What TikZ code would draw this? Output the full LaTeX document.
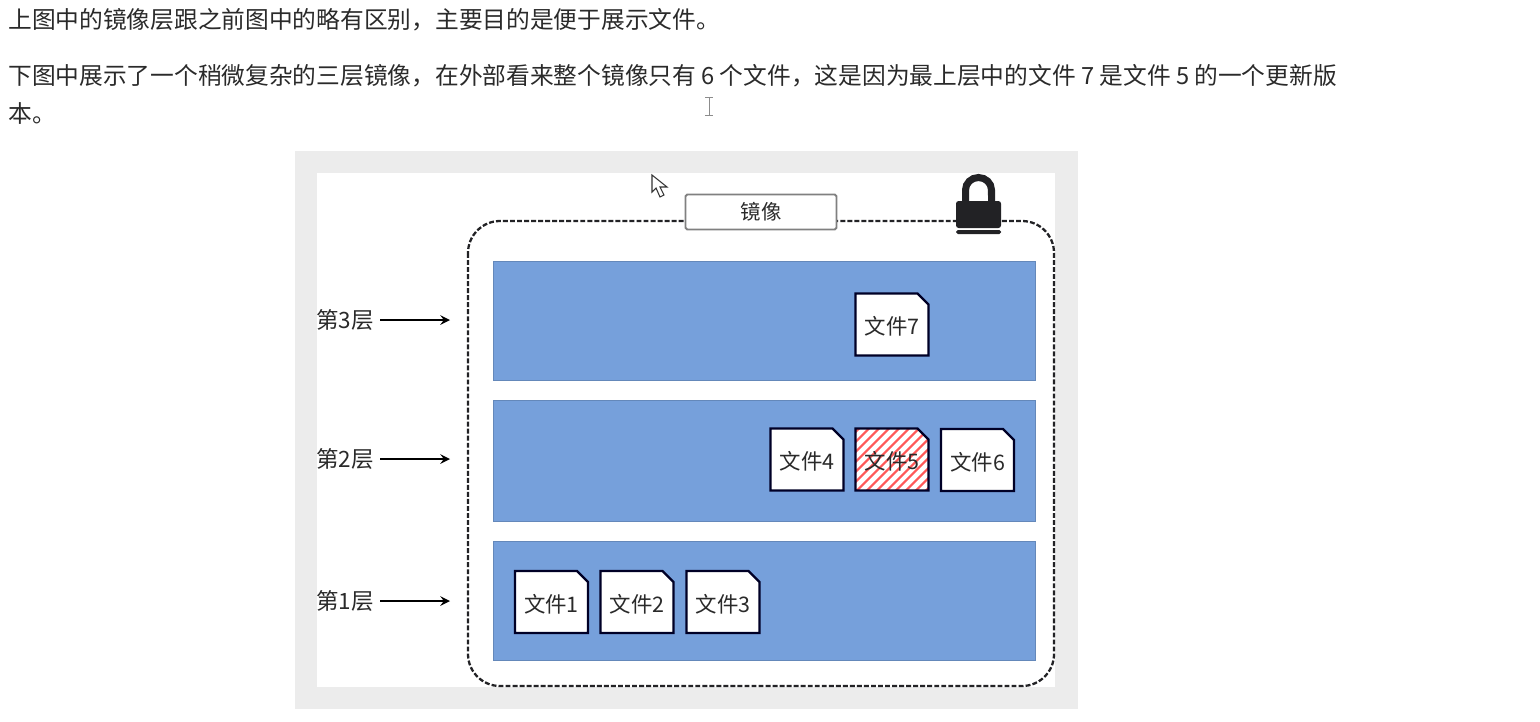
\documentclass[tikz,border=0pt]{standalone}
\usepackage{fontspec}
\setmainfont{Noto Sans CJK SC}
\usetikzlibrary{arrows, positioning, shapes.misc, patterns.meta}
\definecolor{framegray}{HTML}{ECECEC}
\definecolor{layerblue}{HTML}{76A0DB}
\definecolor{inkdark}{HTML}{222225}
\definecolor{textdark}{HTML}{2A2A2A}
\tikzstyle{para} = [anchor=west, inner sep=0pt, text=textdark, font=\fontsize{13.5pt}{15pt}\selectfont]
\tikzstyle{layerbox} = [rectangle, minimum width=10.84cm, minimum height=2.38cm, fill=layerblue, draw=layerblue!85!black, very thin]
\tikzstyle{filebox} = [chamfered rectangle, chamfered rectangle corners=north east, chamfered rectangle xsep=0.11cm, chamfered rectangle ysep=0.11cm, minimum width=1.46cm, minimum height=1.24cm, inner sep=0pt, text height=12.8pt, text depth=1.2pt, draw=black!85!blue, line width=1.3pt, fill=white, text=textdark, font=\fontsize{12.2pt}{13pt}\selectfont]
\tikzstyle{layerlabel} = [inner sep=3.4pt, text=textdark, font=\fontsize{12.8pt}{14pt}\selectfont]
\tikzstyle{arrow} = [line width=1.4pt,->,>=stealth]

\begin{document}
\begin{tikzpicture}[x=0.02cm, y=-0.02cm]
\useasboundingbox (0,0) rectangle (1540,721);

% Text above the figure
\node (line1) [para] at (8,20) {上图中的镜像层跟之前图中的略有区别，主要目的是便于展示文件。};
\node (line2) [para] at (8,76) {下图中展示了一个稍微复杂的三层镜像，在外部看来整个镜像只有 6 个文件，这是因为最上层中的文件 7 是文件 5 的一个更新版};
\node (line3) [para] at (8,113) {本。};

% Text cursor and mouse pointer
\draw [black!45, line width=0.5pt] (705,97) -- (713,97) (709,97) -- (709,115) (705,115) -- (713,115);

% Frame
\fill [framegray] (295,151) rectangle (1078,709);
\fill [white] (317,173) rectangle (1055,687);
\draw [black!80, line width=0.6pt, fill=white] (652,175) -- (652,192) -- (656,188) -- (660,197) -- (664,195) -- (660,187) -- (667,187) -- cycle;
\draw [inkdark, line width=1.3pt, dash pattern=on 2.8pt off 1.2pt, rounded corners=0.64cm] (468,221) rectangle (1054,686);

% Image title
\node (title) [rectangle, rounded corners=1pt, minimum width=3.02cm, minimum height=0.7cm, draw=black!50, line width=1.1pt, fill=white, text=textdark, font=\fontsize{11.6pt}{13pt}\selectfont] at (761,212) {镜像};

% Lock
\draw [inkdark, line width=4pt] (965.5,204) -- (965.5,190) arc (180:0:0.26cm and 0.25cm) -- (991.5,204);
\fill [inkdark, rounded corners=1.5pt] (956,201) rectangle (1001,228);
\fill [inkdark, rounded corners=1pt] (956,230) rectangle (1001,234);

% Layers
\node (layer3) [layerbox] at (764,320.5) {};
\node (layer2) [layerbox, minimum height=2.42cm] at (764,460.5) {};
\node (layer1) [layerbox] at (764,600.5) {};

% Files
\node (file7) [filebox] at (892,324.5) {文件7};
\node (file4) [filebox] at (807,459.5) {文件4};
\node (file5) [filebox, preaction={fill=white}, pattern={Lines[angle=45, distance=4pt, line width=1.3pt]}, pattern color=red!65] at (892,459.5) {文件5};
\node (file6) [filebox] at (977.5,460) {文件6};
\node (file1) [filebox] at (551.5,602) {文件1};
\node (file2) [filebox] at (637,602) {文件2};
\node (file3) [filebox] at (723,602) {文件3};

% Labels
\node (label3) [layerlabel, anchor=east] at (380,320) {第3层};
\node (label2) [layerlabel, anchor=east] at (380,459) {第2层};
\node (label1) [layerlabel, anchor=east] at (380,601) {第1层};
\coordinate (tip3) at (450,320);
\coordinate (tip2) at (450,459);
\coordinate (tip1) at (450,601);

% Arrows
\draw [arrow] (label3.east) -- (tip3);
\draw [arrow] (label2.east) -- (tip2);
\draw [arrow] (label1.east) -- (tip1);

\end{tikzpicture}
\end{document}
